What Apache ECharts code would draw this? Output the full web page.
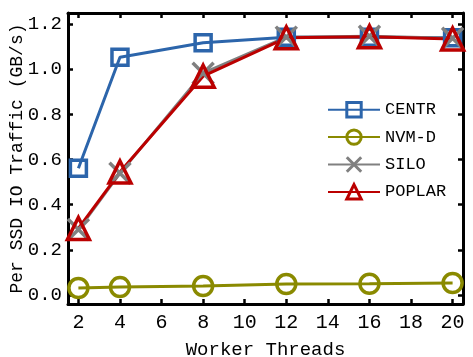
<!DOCTYPE html>
<html><head><meta charset="utf-8">
<script src="https://cdn.jsdelivr.net/npm/echarts@6/dist/echarts.min.js"></script>
<style>html,body{margin:0;padding:0;background:#fff}#c{width:473px;height:357px}</style>
</head><body><div id="c"></div>
<script>
var threads = [2, 4, 8, 12, 16, 20];
var centr  = [0.562, 1.054, 1.118, 1.142, 1.142, 1.140];
var nvmd   = [0.031, 0.035, 0.040, 0.049, 0.050, 0.053];
var silo   = [0.290, 0.540, 0.983, 1.143, 1.147, 1.138];
var poplar = [0.295, 0.545, 0.970, 1.140, 1.145, 1.135];
var xTicks = [2, 4, 6, 8, 10, 12, 14, 16, 18, 20];
var yTicks = [0, 0.2, 0.4, 0.6, 0.8, 1.0, 1.2];
var seriesNames = ['CENTR', 'NVM-D', 'SILO', 'POPLAR'];

var FONT = 'Liberation Mono';
var cross = 'path://M0,0L10,10M10,0L0,10';
function pairs(vals){ return threads.map(function(t,i){ return [t, vals[i]]; }); }
function mk(name, vals, color, symbol, size){
  return {
    name: name, type: 'line', data: pairs(vals), xAxisIndex: 0, yAxisIndex: 0,
    symbol: symbol, symbolSize: size, color: color,
    lineStyle: {color: color, width: 3},
    itemStyle: {color: 'rgba(0,0,0,0)', borderColor: color, borderWidth: 3.5},
    emphasis: {disabled: true}, animation: false, z: 3
  };
}
var axisLine = {show: true, onZero: false, lineStyle: {color: '#000', width: 3}};
var tick = function(vals){ return {show: true, inside: true, length: 5, customValues: vals, lineStyle: {color: '#000', width: 2.5}}; };
var chart = echarts.init(document.getElementById('c'), null, {renderer: 'canvas'});
chart.setOption({
  backgroundColor: '#fff',
  animation: false,
  grid: {left: 68, right: 10, top: 13, bottom: 53, outerBoundsMode: 'none', containLabel: false},
  legend: {
    data: seriesNames, orient: 'vertical', left: 322, top: 96,
    itemWidth: 52, itemHeight: 18, itemGap: 10,
    textStyle: {fontFamily: FONT, fontSize: 17, color: '#000'},
    itemStyle: {borderWidth: 3}
  },
  xAxis: [{
    type: 'value', min: 1.5, max: 20.5, position: 'bottom',
    axisLine: axisLine, axisTick: tick(xTicks),
    axisLabel: {customValues: xTicks, fontFamily: FONT, fontSize: 20, color: '#000', margin: 9},
    splitLine: {show: false},
    name: 'Worker Threads', nameLocation: 'middle', nameGap: 36, nameMoveOverlap: false,
    nameTextStyle: {fontFamily: FONT, fontSize: 19, color: '#000'}
  }, {
    type: 'value', min: 1.5, max: 20.5, position: 'top',
    axisLine: axisLine, axisTick: tick(xTicks), axisLabel: {show: false}, splitLine: {show: false}
  }],
  yAxis: [{
    type: 'value', min: -0.04, max: 1.25, position: 'left',
    axisLine: axisLine, axisTick: tick(yTicks),
    axisLabel: {customValues: yTicks, fontFamily: FONT, fontSize: 19, color: '#000', margin: 6,
      formatter: function(v){ return v.toFixed(1); }},
    splitLine: {show: false},
    name: 'Per SSD IO Traffic (GB/s)', nameLocation: 'middle', nameGap: 42, nameMoveOverlap: false,
    nameTextStyle: {fontFamily: FONT, fontSize: 18, color: '#000'}
  }, {
    type: 'value', min: -0.04, max: 1.25, position: 'right',
    axisLine: axisLine, axisTick: tick(yTicks), axisLabel: {show: false}, splitLine: {show: false}
  }],
  series: [
    mk('CENTR', centr, '#2c65ab', 'rect', 16),
    mk('NVM-D', nvmd, '#8a8a00', 'circle', 19),
    mk('SILO', silo, '#808080', cross, 21),
    mk('POPLAR', poplar, '#bb0000', 'triangle', 22)
  ]
});
</script></body></html>
